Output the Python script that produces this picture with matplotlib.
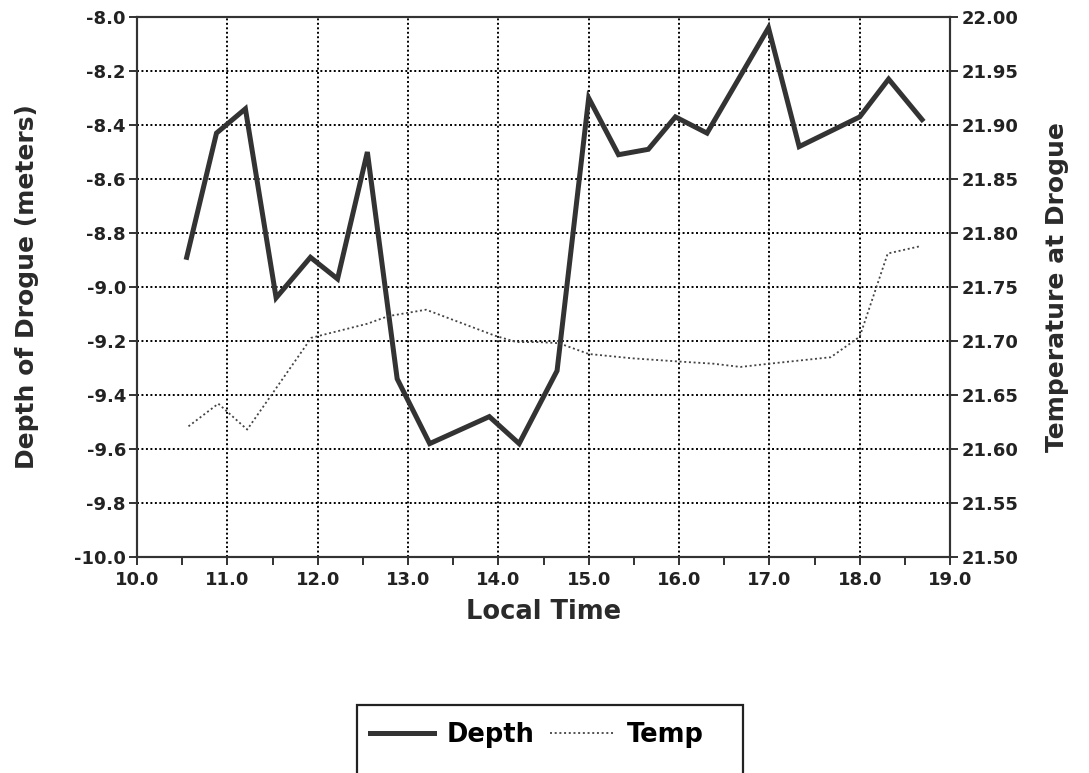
import matplotlib.pyplot as plt
from matplotlib.patches import Rectangle
from matplotlib.ticker import MultipleLocator, FormatStrFormatter

plt.rcParams['font.family'] = ['DejaVu Sans']

# depth of drogue (m) vs local time (h)
depth_t = [10.55, 10.88, 11.20, 11.54, 11.92, 12.22, 12.55, 12.88, 13.24, 13.90, 14.23,
           14.65, 15.00, 15.33, 15.66, 15.96, 16.31, 16.99, 17.33, 18.00, 18.32, 18.69]
depth = [-8.89, -8.43, -8.34, -9.04, -8.89, -8.97, -8.50, -9.34, -9.58, -9.48, -9.58,
         -9.31, -8.30, -8.51, -8.49, -8.37, -8.43, -8.04, -8.48, -8.37, -8.23, -8.38]

# temperature at drogue
temp_t = [10.57, 10.90, 11.22, 11.93, 12.55, 12.78, 13.20, 13.96, 14.20, 14.45, 14.67,
          15.00, 15.48, 16.00, 16.38, 16.68, 17.00, 17.68, 18.00, 18.31, 18.68]
temp = [21.621, 21.642, 21.618, 21.703, 21.716, 21.723, 21.729, 21.705, 21.699, 21.699, 21.698,
        21.688, 21.684, 21.681, 21.679, 21.676, 21.679, 21.685, 21.704, 21.781, 21.788]

fig = plt.figure(figsize=(10.89, 7.73), dpi=100)
ax = fig.add_axes([0.1258, 0.2794, 0.7466, 0.6986])
ax2 = ax.twinx()

l1, = ax.plot(depth_t, depth, color='#333333', lw=3.6, solid_joinstyle='miter', label='Depth')
l2, = ax2.plot(temp_t, temp, color='#444444', lw=1.3, linestyle=(0, (1.1, 1.5)), label='Temp')

ax.set_xlim(10, 19)
ax.set_ylim(-10, -8)
ax2.set_ylim(21.5, 22.0)

ax.xaxis.set_major_locator(MultipleLocator(1))
ax.xaxis.set_minor_locator(MultipleLocator(0.5))
ax.xaxis.set_major_formatter(FormatStrFormatter('%.1f'))
ax.yaxis.set_major_locator(MultipleLocator(0.2))
ax.yaxis.set_major_formatter(FormatStrFormatter('%.1f'))
ax2.yaxis.set_major_locator(MultipleLocator(0.05))
ax2.yaxis.set_major_formatter(FormatStrFormatter('%.2f'))

ax.grid(True, which='major', color='black', linestyle=(0, (1, 1.3)), lw=1.4)

for a in (ax, ax2):
    a.tick_params(which='both', direction='out', length=6, width=1.3, pad=2,
                  labelsize=13, colors='#222222')
    for s in a.spines.values():
        s.set_linewidth(1.5)
        s.set_color('#333333')
ax.tick_params(axis='x', pad=4)
for lab in ax.get_xticklabels() + ax.get_yticklabels() + ax2.get_yticklabels():
    lab.set_fontweight('bold')

lbl = dict(fontsize=18, fontweight='bold', color='#2a2a2a')
ax.set_xlabel('Local Time', fontsize=18.5, fontweight='bold', color='#2a2a2a')
ax.set_ylabel('Depth of Drogue (meters)', **lbl)
ax2.set_ylabel('Temperature at Drogue', **lbl)
ax.xaxis.set_label_coords(0.5, -0.078)
ax.yaxis.set_label_coords(-0.12, 0.5)
ax2.yaxis.set_label_coords(1.117, 0.5)

fig.legend([l1, l2], ['Depth', 'Temp'], loc='center', bbox_to_anchor=(0.493, 0.049),
           ncol=2, frameon=False, prop=dict(size=18.5, weight='bold'),
           handlelength=2.5, columnspacing=0.6, handletextpad=0.5)
fig.add_artist(Rectangle((357 / 1089, -0.05), (743 - 357) / 1089, 68 / 773 + 0.05,
                         transform=fig.transFigure, fill=False, lw=1.6, ec='#222222'))

fig.savefig('out.png', dpi=100)
